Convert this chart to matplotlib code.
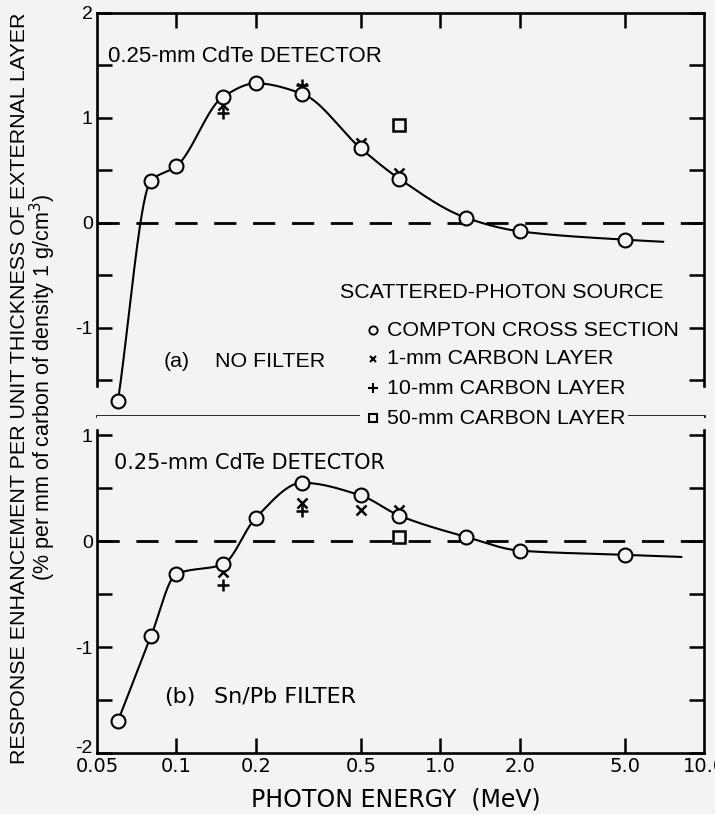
import numpy as np
import matplotlib.pyplot as plt
from matplotlib.ticker import FixedLocator, FuncFormatter, NullLocator

# Compton cross section points (same energies for both filters)
energy = [0.06, 0.08, 0.1, 0.15, 0.2, 0.3, 0.5, 0.7, 1.25, 2.0, 5.0]
compton_a = [-1.70, 0.40, 0.54, 1.20, 1.33, 1.23, 0.71, 0.42, 0.05, -0.08, -0.16]
compton_b = [-1.70, -0.90, -0.31, -0.22, 0.22, 0.55, 0.43, 0.24, 0.04, -0.09, -0.13]
# where the drawn curves run out past the last point
curve_end_a = (7.0, -0.18)
curve_end_b = (8.2, -0.15)

# carbon layer results, no filter
c1_energy_a = [0.15, 0.3, 0.5, 0.7]
c1_a = [1.12, 1.29, 0.76, 0.48]
c10_energy_a = [0.15, 0.3]
c10_a = [1.05, 1.31]
c50_energy_a = [0.7]
c50_a = [0.93]

# carbon layer results, Sn/Pb filter
c1_energy_b = [0.15, 0.3, 0.5, 0.7]
c1_b = [-0.29, 0.36, 0.29, 0.29]
c10_energy_b = [0.15, 0.3]
c10_b = [-0.41, 0.28]
c50_energy_b = [0.7]
c50_b = [0.04]

xticks = [0.05, 0.1, 0.2, 0.5, 1.0, 2.0, 5.0, 10.0]
xticklabels = ['0.05', '0.1', '0.2', '0.5', '1.0', '2.0', '5.0', '10.0']

BG = '#f3f3f3'
FONT = 'Liberation Sans'
NARROW = 'Liberation Sans Narrow'


def pchip(x, y, xnew):
    # monotone cubic through the points, used only to draw the smooth curve
    x = np.asarray(x, float)
    y = np.asarray(y, float)
    h = np.diff(x)
    delta = np.diff(y) / h
    d = np.zeros_like(y)
    for k in range(1, len(x) - 1):
        if delta[k - 1] * delta[k] > 0:
            w1 = 2 * h[k] + h[k - 1]
            w2 = h[k] + 2 * h[k - 1]
            d[k] = (w1 + w2) / (w1 / delta[k - 1] + w2 / delta[k])
    d[0] = delta[0]
    d[-1] = delta[-1]
    idx = np.clip(np.searchsorted(x, xnew) - 1, 0, len(x) - 2)
    t = (xnew - x[idx]) / h[idx]
    h00 = 2 * t**3 - 3 * t**2 + 1
    h10 = t**3 - 2 * t**2 + t
    h01 = -2 * t**3 + 3 * t**2
    h11 = t**3 - t**2
    return h00 * y[idx] + h10 * h[idx] * d[idx] + h01 * y[idx + 1] + h11 * h[idx] * d[idx + 1]


def smooth_curve(ax, xs, ys, end):
    lx = np.log10(list(xs) + [end[0]])
    ly = list(ys) + [end[1]]
    xx = np.linspace(lx[0], lx[-1], 600)
    ax.plot(10**xx, pchip(lx, ly, xx), color='k', lw=1.5, zorder=2)


def style_axes(ax, ymin, ymax, yticks, spine_lo, spine_hi, top):
    ax.set_facecolor(BG)
    ax.set_xscale('log')
    ax.set_xlim(0.05, 10)
    ax.set_ylim(ymin, ymax)
    ax.xaxis.set_major_locator(FixedLocator(xticks[1:-1]))
    ax.xaxis.set_minor_locator(NullLocator())
    ax.yaxis.set_major_locator(FixedLocator(yticks))
    ax.yaxis.set_major_formatter(FuncFormatter(
        lambda v, p: ('%d' % v) if abs(v - round(v)) < 1e-6 else ''))
    for s in ax.spines.values():
        s.set_linewidth(1.9)
    ax.spines['left'].set_bounds(spine_lo, spine_hi)
    ax.spines['right'].set_bounds(spine_lo, spine_hi)
    ax.tick_params(axis='both', which='major', direction='in', length=11, width=1.8,
                   left=True, right=True, top=top, bottom=not top,
                   labelleft=True, labelbottom=False, labelsize=14)
    for lab in ax.get_yticklabels():
        lab.set_fontfamily(FONT)
    ax.tick_params(axis='y', pad=3)
    ax.axhline(0, color='k', lw=2.0, dashes=(8, 6), zorder=1)


def draw_points(ax, comp, e1, c1, e10, c10, e50, c50):
    ax.plot(e1, c1, ls='none', marker='x', ms=7, mew=1.8, color='k', zorder=3)
    ax.plot(e10, c10, ls='none', marker='+', ms=9, mew=1.8, color='k', zorder=3)
    ax.plot(e50, c50, ls='none', marker='s', ms=8, mew=1.8, mfc=BG, mec='k', zorder=3)
    ax.plot(energy, comp, ls='none', marker='o', ms=10, mew=1.5, mfc=BG, mec='k', zorder=4)


fig = plt.figure(figsize=(7.15, 8.14), dpi=100, facecolor=BG)
W, H = 715.0, 814.0
left, right = 97 / W, 704 / W
ax_a = fig.add_axes([left, 1 - 416 / H, right - left, (416 - 13) / H])
ax_b = fig.add_axes([left, 1 - 753 / H, right - left, (753 - 416) / H])

# (a) no filter
yt_a = np.arange(-1.5, 2.01, 0.5)
style_axes(ax_a, -1.84, 2.0, yt_a, -1.55, 2.0, True)
ax_a.set_yticklabels(['' if abs(v - round(v)) > 1e-6 else '%d' % v for v in yt_a],
                     fontfamily=FONT)
smooth_curve(ax_a, energy, compton_a, curve_end_a)
draw_points(ax_a, compton_a, c1_energy_a, c1_a, c10_energy_a, c10_a, c50_energy_a, c50_a)

# (b) Sn/Pb filter
yt_b = np.arange(-2.0, 1.01, 0.5)
style_axes(ax_b, -2.0, 1.18, yt_b, -2.0, 1.05, False)
ax_b.set_yticklabels(['' if abs(v - round(v)) > 1e-6 else '%d' % v for v in yt_b],
                     fontfamily=FONT)
ax_b.get_yticklabels()[0].set_va('baseline')  # "-2" sits just above the corner
ax_b.spines['top'].set_visible(False)
ax_b.tick_params(axis='x', labelbottom=True, pad=3)
ax_b.set_xticks(xticks)
ax_b.set_xticklabels(xticklabels, fontfamily=NARROW, fontsize=14)
ax_b.tick_params(axis='x', which='major', length=11)
smooth_curve(ax_b, energy, compton_b, curve_end_b)
draw_points(ax_b, compton_b, c1_energy_b, c1_b, c10_energy_b, c10_b, c50_energy_b, c50_b)
# no tick marks at the two corners of the energy axis
for t in ax_b.xaxis.get_major_ticks():
    if t.get_loc() in (0.05, 10.0):
        t.tick1line.set_visible(False)

txt = dict(fontfamily=FONT, fontsize=15.4, color='k')
fig.text(108 / W, 1 - 57 / H, '0.25-mm CdTe DETECTOR', va='center',
         fontfamily=FONT, fontsize=16)
fig.text(164 / W, 1 - 362 / H, '(a)', va='center', **txt)
fig.text(215 / W, 1 - 362 / H, 'NO FILTER', va='center', **txt)
fig.text(114 / W, 1 - 463 / H, '0.25-mm CdTe DETECTOR', va='center',
         fontfamily=NARROW, fontsize=15)
fig.text(164 / W, 1 - 697 / H, '(b)', va='center', fontfamily=NARROW, fontsize=16)
fig.text(214 / W, 1 - 697 / H, 'Sn/Pb FILTER', va='center', fontfamily=NARROW, fontsize=16)

# legend written out by hand, last row sits on the panel border
fig.text(340 / W, 1 - 292 / H, 'SCATTERED-PHOTON SOURCE', va='center', **txt)
legend_rows = [('o', 'COMPTON CROSS SECTION', 330, 6, 1.3),
               ('x', '1-mm CARBON LAYER', 359, 5, 1.5),
               ('+', '10-mm CARBON LAYER', 388, 7, 1.5),
               ('s', '50-mm CARBON LAYER', 418, 6, 1.5)]
for mk, label, ypx, ms, mew in legend_rows:
    box = dict(facecolor=BG, edgecolor='none', pad=2) if mk == 's' else None
    fig.text(387 / W, 1 - ypx / H, label, va='center', zorder=10, bbox=box, **txt)
    if mk == 's':
        fig.patches.append(plt.Rectangle((360 / W, 1 - (ypx + 11) / H), 28 / W, 22 / H,
                                         transform=fig.transFigure, facecolor=BG,
                                         edgecolor='none', zorder=9))
    fig.lines.append(plt.Line2D([373 / W], [1 - ypx / H], transform=fig.transFigure,
                                marker=mk, ms=ms, mew=mew, mfc=BG, mec='k', color='k',
                                ls='none', zorder=11))

fig.text(20 / W, 1 - 388 / H, 'RESPONSE ENHANCEMENT PER UNIT THICKNESS OF EXTERNAL LAYER',
         rotation=90, ha='center', va='center', **txt)
fig.text(43 / W, 1 - 387 / H, '(% per mm of carbon of density 1 g/cm$^3$)',
         rotation=90, ha='center', va='center', fontfamily=FONT, fontsize=15.5)
fig.text(396 / W, 1 - 800 / H, 'PHOTON ENERGY  (MeV)', ha='center', va='center',
         fontfamily=NARROW, fontsize=17)

fig.savefig('out.png', dpi=100, facecolor=BG)
